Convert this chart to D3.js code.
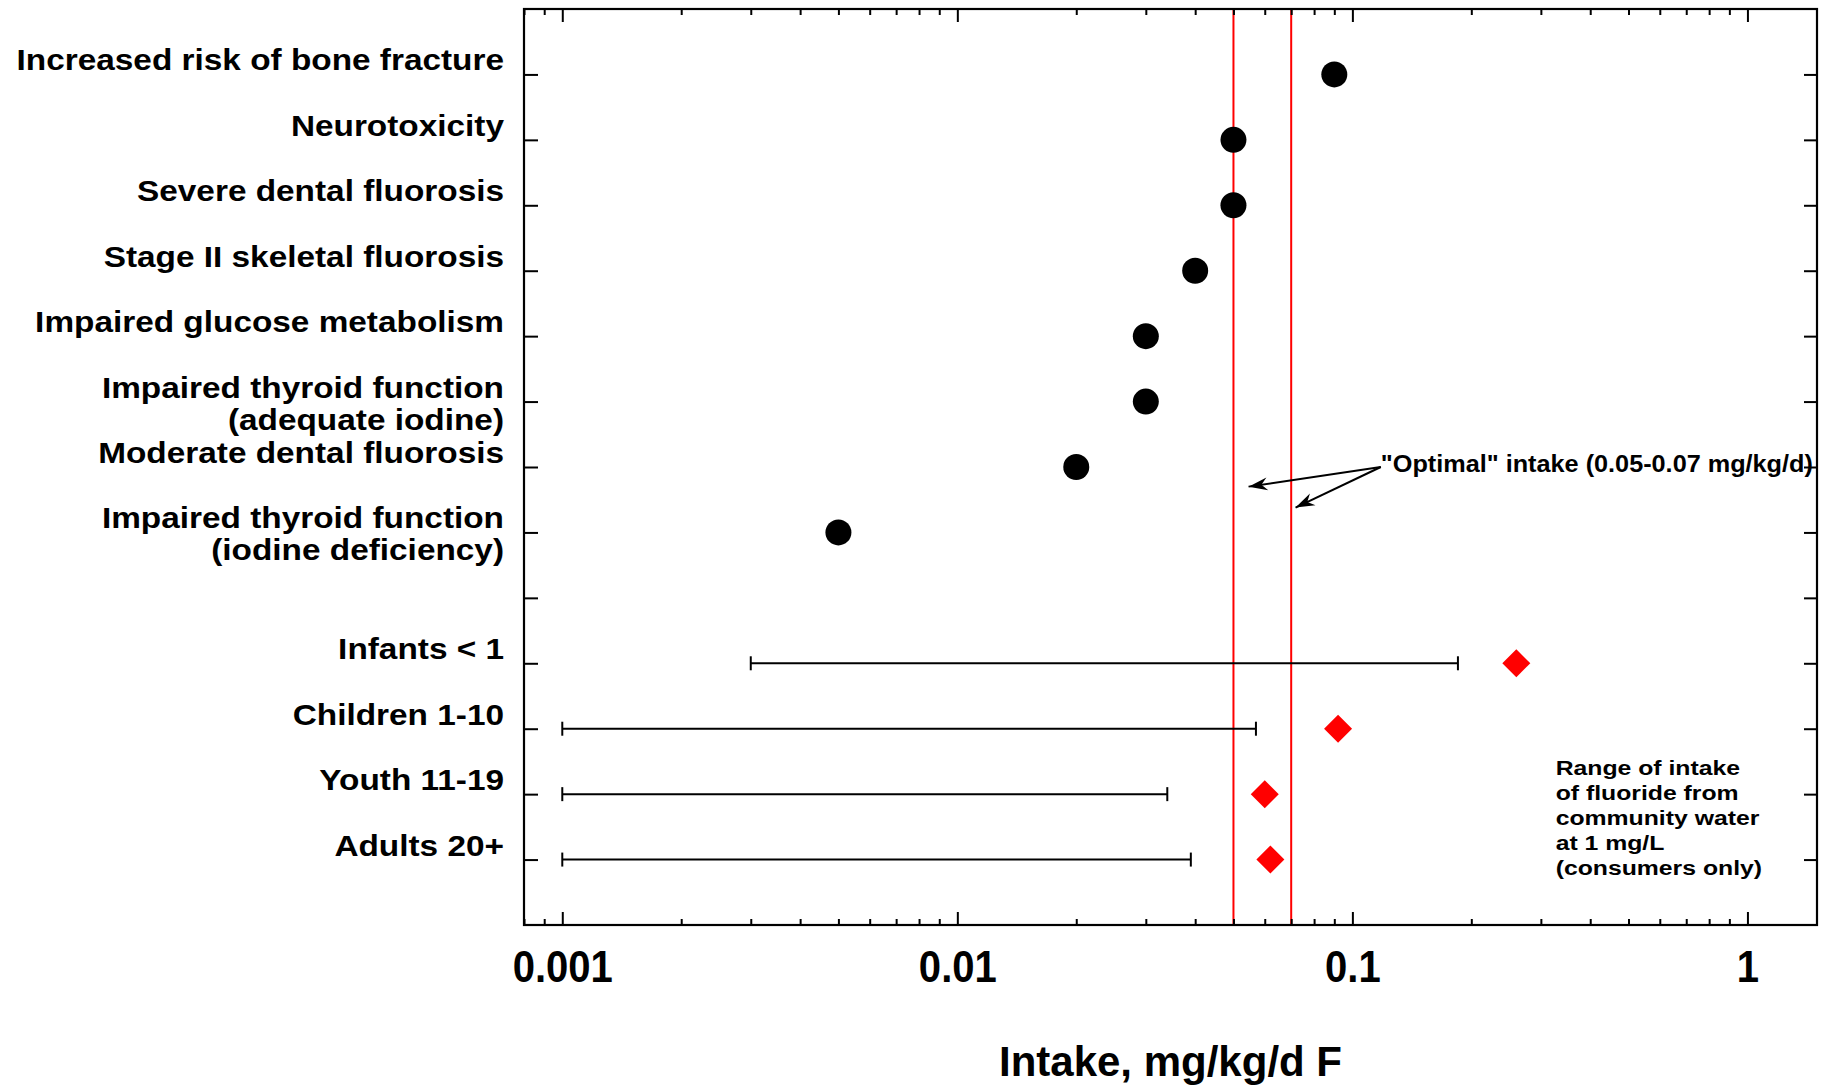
<!DOCTYPE html>
<html>
<head>
<meta charset="utf-8">
<script src="https://cdn.jsdelivr.net/npm/d3@7"></script>
<style>
  body { margin: 0; background: #fff; }
  text { font-family: "Liberation Sans", Arial, Helvetica, sans-serif; font-weight: bold; fill: #000; }
</style>
</head>
<body>
<svg id="chart" width="1835" height="1085"></svg>
<script>
// health effects and the intake at which they show up (mg/kg/d)
const hazards = [
  "Increased risk of bone fracture",
  "Neurotoxicity",
  "Severe dental fluorosis",
  "Stage II skeletal fluorosis",
  "Impaired glucose metabolism",
  "Impaired thyroid function\n(adequate iodine)",
  "Moderate dental fluorosis",
  "Impaired thyroid function\n(iodine deficiency)"
];
const hazardValues = [0.09, 0.05, 0.05, 0.04, 0.03, 0.03, 0.02, 0.005];

// intake from community water at 1 mg/L, by age group
const groups = ["Infants < 1", "Children 1-10", "Youth 11-19", "Adults 20+"];
const rangeLow = [0.003, 0.001, 0.001, 0.001];
const rangeHigh = [0.185, 0.057, 0.034, 0.039];
const groupPoints = [0.26, 0.092, 0.06, 0.062];

const optimal = [0.05, 0.07];
const majorTicks = [0.001, 0.01, 0.1, 1];
const minorTicks = [0.0008, 0.0009,
  0.002, 0.003, 0.004, 0.005, 0.006, 0.007, 0.008, 0.009,
  0.02, 0.03, 0.04, 0.05, 0.06, 0.07, 0.08, 0.09,
  0.2, 0.3, 0.4, 0.5, 0.6, 0.7, 0.8, 0.9];
const rangeNote = ["Range of intake", "of fluoride from", "community water", "at 1 mg/L", "(consumers only)"];
const optimalNote = "\"Optimal\" intake (0.05-0.07 mg/kg/d)";

const pLeft = 524, pRight = 1817, pTop = 9, pBottom = 925;
const rows = [...hazards, " ", ...groups];

const svg = d3.select("#chart");

const x = d3.scaleLog().domain([0.0008, 1.5]).range([pLeft, pRight]);
const y = d3.scalePoint().domain(rows).range([pTop, pBottom]).padding(1);
const step = y.step();

// arrow marker for the "optimal" note
svg.append("defs").append("marker")
  .attr("id", "head")
  .attr("markerUnits", "userSpaceOnUse")
  .attr("viewBox", "-20 -8 22 16")
  .attr("markerWidth", 22).attr("markerHeight", 16)
  .attr("refX", 0).attr("refY", 0)
  .attr("orient", "auto")
  .append("path")
  .attr("d", "M0,0 L-19,-6.5 L-13,0 L-19,6.5 Z")
  .attr("fill", "#000");

// optimal intake lines
svg.append("g").selectAll("line")
  .data(optimal)
  .join("line")
  .attr("x1", d => x(d)).attr("x2", d => x(d))
  .attr("y1", pTop).attr("y2", pBottom)
  .attr("stroke", "#ff0000")
  .attr("stroke-width", 2);

// axes: major + minor ticks on bottom and top, pointing inward
const styleAxis = g => {
  g.select(".domain").remove();
  g.selectAll(".tick line").attr("stroke", "#000").attr("stroke-width", 2);
};
svg.append("g")
  .attr("transform", `translate(0,${pBottom})`)
  .call(d3.axisBottom(x).tickValues(minorTicks).tickSize(-6).tickFormat(""))
  .call(styleAxis);
svg.append("g")
  .attr("transform", `translate(0,${pTop})`)
  .call(d3.axisTop(x).tickValues(minorTicks).tickSize(-6).tickFormat(""))
  .call(styleAxis);
svg.append("g")
  .attr("transform", `translate(0,${pTop})`)
  .call(d3.axisTop(x).tickValues(majorTicks).tickSize(-13).tickFormat(""))
  .call(styleAxis);
const xAxis = svg.append("g")
  .attr("transform", `translate(0,${pBottom})`)
  .call(d3.axisBottom(x).tickValues(majorTicks).tickSize(-13).tickPadding(25).tickFormat(d3.format("~g")))
  .call(styleAxis);
xAxis.attr("font-family", null).attr("font-size", null);
xAxis.selectAll(".tick text")
  .attr("font-size", 45)
  .attr("fill", "#000")
  .attr("transform", "scale(0.89,1)");

svg.append("g")
  .attr("transform", `translate(${pLeft},0)`)
  .call(d3.axisLeft(y).tickSize(-14).tickFormat(""))
  .call(styleAxis);
svg.append("g")
  .attr("transform", `translate(${pRight},0)`)
  .call(d3.axisRight(y).tickSize(-13).tickFormat(""))
  .call(styleAxis);

// frame
svg.append("rect")
  .attr("x", pLeft).attr("y", pTop)
  .attr("width", pRight - pLeft).attr("height", pBottom - pTop)
  .attr("fill", "none")
  .attr("stroke", "#000")
  .attr("stroke-width", 2.2);

// row labels
const labels = svg.append("g").selectAll("text")
  .data(rows)
  .join("text")
  .attr("transform", d => `translate(504,${y(d) - 4}) scale(1.15,1)`)
  .attr("text-anchor", "end")
  .attr("font-size", 29);
labels.selectAll("tspan")
  .data(d => d.split("\n"))
  .join("tspan")
  .attr("x", 0)
  .attr("dy", (d, i) => i ? 32 : 0)
  .text(d => d);

// error bars for intake ranges
const bars = svg.append("g").selectAll("g")
  .data(groups)
  .join("g")
  .attr("stroke", "#000")
  .attr("stroke-width", 2);
bars.append("line")
  .attr("x1", (d, i) => x(rangeLow[i]))
  .attr("x2", (d, i) => x(rangeHigh[i]))
  .attr("y1", d => y(d)).attr("y2", d => y(d));
bars.append("line")
  .attr("x1", (d, i) => x(rangeLow[i])).attr("x2", (d, i) => x(rangeLow[i]))
  .attr("y1", d => y(d) - 7).attr("y2", d => y(d) + 7);
bars.append("line")
  .attr("x1", (d, i) => x(rangeHigh[i])).attr("x2", (d, i) => x(rangeHigh[i]))
  .attr("y1", d => y(d) - 7).attr("y2", d => y(d) + 7);

// red diamonds
svg.append("g").selectAll("path")
  .data(groups)
  .join("path")
  .attr("d", d3.symbol(d3.symbolSquare, 392))
  .attr("transform", (d, i) => `translate(${x(groupPoints[i])},${y(d)}) rotate(45)`)
  .attr("fill", "#ff0000");

// black dots
svg.append("g").selectAll("circle")
  .data(hazards)
  .join("circle")
  .attr("cx", (d, i) => x(hazardValues[i]))
  .attr("cy", d => y(d))
  .attr("r", 13)
  .attr("fill", "#000");

// "optimal" note with two arrows
const noteRow = y(hazards[6]);
const noteX = x(0.118);
svg.append("text")
  .attr("transform", `translate(${noteX},${noteRow + 4.5}) scale(1.075,1)`)
  .attr("font-size", 23.5)
  .text(optimalNote);
svg.append("g").selectAll("line")
  .data([[0.0546, 0.3], [0.0718, 0.62]])
  .join("line")
  .attr("x1", noteX).attr("y1", noteRow)
  .attr("x2", d => x(d[0])).attr("y2", d => noteRow + d[1] * step)
  .attr("stroke", "#000")
  .attr("stroke-width", 2)
  .attr("marker-end", "url(#head)");

// range note
svg.append("text")
  .attr("transform", `translate(${x(0.327)},${y(groups[1]) + 0.7 * step}) scale(1.18,1)`)
  .attr("font-size", 21)
  .selectAll("tspan")
  .data(rangeNote)
  .join("tspan")
  .attr("x", 0)
  .attr("dy", (d, i) => i ? 25.2 : 0)
  .text(d => d);

// x title
svg.append("text")
  .attr("x", (pLeft + pRight) / 2)
  .attr("y", 1076)
  .attr("text-anchor", "middle")
  .attr("font-size", 42)
  .text("Intake, mg/kg/d F");
</script>
</body>
</html>
